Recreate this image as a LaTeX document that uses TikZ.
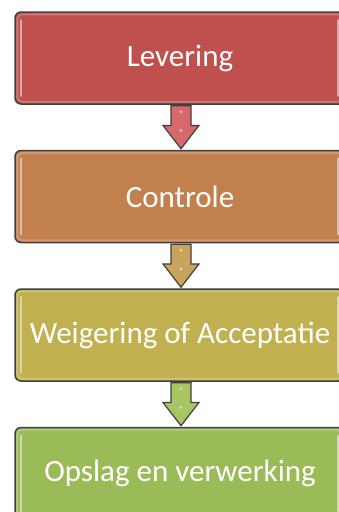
\documentclass[tikz,border=0pt]{standalone}
\usepackage{fontspec}
\setmainfont{Carlito}
\usetikzlibrary{positioning,calc}
\definecolor{stRed}{HTML}{C0504D}
\definecolor{stOrange}{HTML}{C2804F}
\definecolor{stGold}{HTML}{C0B050}
\definecolor{stGreen}{HTML}{9BBB59}
\definecolor{arRed}{HTML}{D7686B}
\definecolor{arGold}{HTML}{C9A45C}
\definecolor{arGreen}{HTML}{A9C562}
\definecolor{rim}{HTML}{404040}
% glossy strips on the inner left/right edges of a stage box
\newcommand\gloss[1]{%
  \draw[white,opacity=.5,line width=2.2pt,line cap=round] ($(#1.north west)+(7,9)$)--($(#1.south west)+(7,-9)$);
  \draw[white,opacity=.5,line width=2.2pt,line cap=round] ($(#1.north east)+(-8,9)$)--($(#1.south east)+(-8,-9)$);
  \draw[white,opacity=.22,line width=2pt,rounded corners=5pt] ($(#1.north west)+(3,3)$) rectangle ($(#1.south east)+(-3,-3)$);}
% block arrow from one stage to the next
\newcommand\stagearrow[3]{%
  \coordinate (m) at ($(#1.south)!0.46!(#2.north)$);
  \draw[flow,fill=#3] ($(#1.south)+(-9,1)$)--($(#1.south)+(11,1)$)--($(m)+(11,0)$)--($(m)+(19,0)$)
    --($(#2.north)+(1,-1)$)--($(m)+(-17,0)$)--($(m)+(-9,0)$)--cycle;
  \fill[white,opacity=.55] ($(#1.south)+(1,7)$) circle (1.6pt) ($(m)+(1,5)$) circle (1.6pt);}

\begin{document}
\begin{tikzpicture}[x=1pt,y=-1pt,
    stage/.style={draw=rim,line width=1.5pt,rounded corners=6pt,minimum width=330pt,minimum height=92pt,inner sep=0pt,text=white,font=\fontsize{31}{36}\selectfont},
    flow/.style={draw=rim,line width=1.2pt,line join=miter}]
  \useasboundingbox (0,0) rectangle (339,512);
  \clip (0,0) rectangle (339,512);
  \node[stage,fill=stRed] (lev) at (180,58) {Levering};
  \node[stage,fill=stOrange,below=45pt of lev] (con) {Controle};
  \node[stage,fill=stGold,below=45pt of con] (wei) {Weigering of Acceptatie};
  \node[stage,fill=stGreen,below=45pt of wei] (ops) {Opslag en verwerking};
  \gloss{lev}\gloss{con}\gloss{wei}\gloss{ops}
  \stagearrow{lev}{con}{arRed}
  \stagearrow{con}{wei}{arGold}
  \stagearrow{wei}{ops}{arGreen}
\end{tikzpicture}
\end{document}
